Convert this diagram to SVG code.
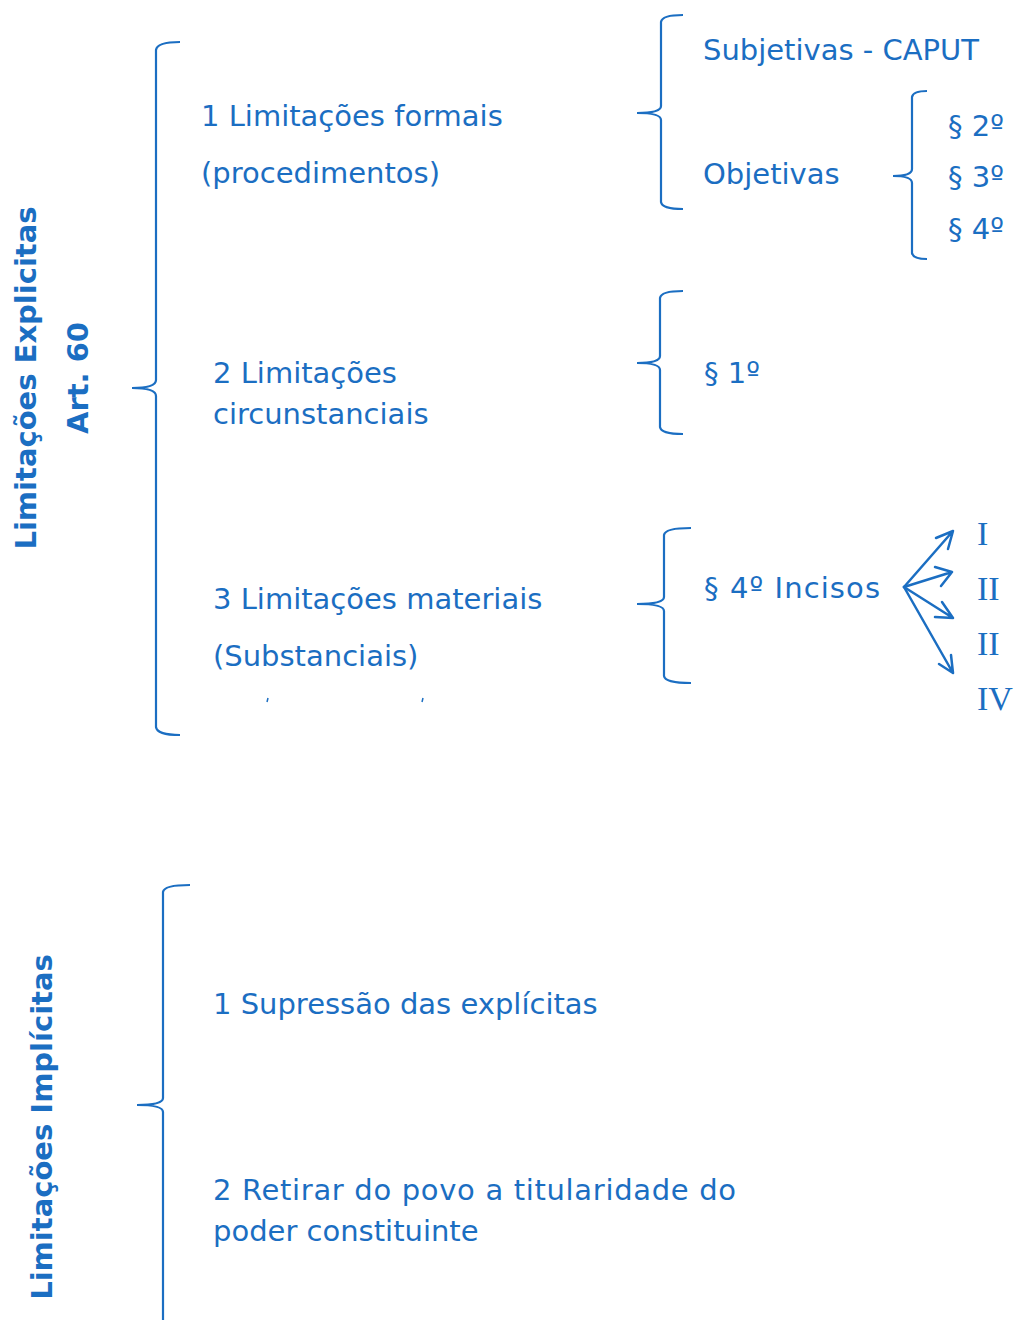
<svg xmlns="http://www.w3.org/2000/svg" width="1016" height="1320" viewBox="0 0 1016 1320">
<style>
.t{font-family:"DejaVu Sans","Noto Sans",sans-serif;font-size:29px;fill:#1B6EC2}
.b{font-family:"DejaVu Sans","Noto Sans",sans-serif;font-size:29px;font-weight:bold;fill:#1B6EC2}
.r{font-family:"Liberation Serif","DejaVu Serif",serif;font-size:34px;fill:#1B6EC2}
.br{fill:none;stroke:#1B6EC2;stroke-width:2.2}
.ar{fill:none;stroke:#1B6EC2;stroke-width:2.5;stroke-linecap:round;stroke-linejoin:round}
</style>
<rect width="1016" height="1320" fill="#ffffff"/>
<g id="connectors">
<path class="br" d="M180,42 Q157,42 156,50 L156,380 Q156,388 132,388 Q156,388 156,396 L156,727 Q157,735 180,735"/>
<path class="br" d="M683,15 Q662,15 661,22 L661,106 Q661,113 637,113 Q661,113 661,120 L661,202 Q662,209 683,209"/>
<path class="br" d="M927,91 Q913,91 912,97 L912,169 Q912,176 893,176 Q912,176 912,183 L912,253 Q913,259 927,259"/>
<path class="br" d="M683,291 Q661,291 660,298 L660,356 Q660,363 637,363 Q660,363 660,370 L660,427 Q661,434 683,434"/>
<path class="br" d="M691,528 Q665,528 664,535 L664,597 Q664,604 637,604 Q664,604 664,611 L664,676 Q665,683 691,683"/>
<path class="br" d="M190,885 Q164,885 163,892 L163,1098 Q163,1105 137,1105 Q163,1105 163,1112 L163,1330"/>
<path class="ar" d="M904,587 L953,531 M953,531 L936,538 M953,531 L948,549"/>
<path class="ar" d="M904,587 L952,572 M952,572 L935,567 M952,572 L941,586"/>
<path class="ar" d="M904,587 L953,618 M953,618 L942,602 M953,618 L935,617"/>
<path class="ar" d="M904,587 L953,673 M953,673 L951,655 M953,673 L939,664"/>
</g>
<g id="side-explicitas">
<text class="b" transform="translate(36,378) rotate(-90)" text-anchor="middle">Limitações Explicitas</text>
<text class="b" transform="translate(88,378) rotate(-90)" text-anchor="middle">Art. 60</text>
</g>
<g id="side-implicitas">
<text class="b" transform="translate(52,1127) rotate(-90)" text-anchor="middle">Limitações Implícitas</text>
</g>
<g id="node-formais">
<text class="t" x="201" y="126">1 Limitações formais</text>
<text class="t" x="201" y="183">(procedimentos)</text>
</g>
<g id="node-subjetivas"><text class="t" x="703" y="60">Subjetivas - CAPUT</text></g>
<g id="node-objetivas"><text class="t" x="703" y="184">Objetivas</text></g>
<g id="node-par234">
<text class="t" x="948" y="136">§ 2º</text>
<text class="t" x="948" y="187">§ 3º</text>
<text class="t" x="948" y="239">§ 4º</text>
</g>
<g id="node-circunstanciais">
<text class="t" x="213" y="383">2 Limitações</text>
<text class="t" x="213" y="424">circunstanciais</text>
</g>
<g id="node-par1"><text class="t" x="704" y="383">§ 1º</text></g>
<g id="node-materiais">
<text class="t" x="213" y="609">3 Limitações materiais</text>
<text class="t" x="213" y="666">(Substanciais)</text>
<path d="M268,698 L267,702 M423,698 L422,702" stroke="#1B6EC2" stroke-width="1.5"/>
</g>
<g id="node-incisos"><text class="t" x="704" y="598" textLength="176" lengthAdjust="spacing">§ 4º Incisos</text></g>
<g id="node-romanos">
<text class="r" x="977" y="545">I</text>
<text class="r" x="977" y="600">II</text>
<text class="r" x="977" y="655">II</text>
<text class="r" x="977" y="710">IV</text>
</g>
<g id="node-supressao"><text class="t" x="213" y="1014">1 Supressão das explícitas</text></g>
<g id="node-retirar">
<text class="t" x="213" y="1200" textLength="523" lengthAdjust="spacing">2 Retirar do povo a titularidade do</text>
<text class="t" x="213" y="1241">poder constituinte</text>
</g>
</svg>
